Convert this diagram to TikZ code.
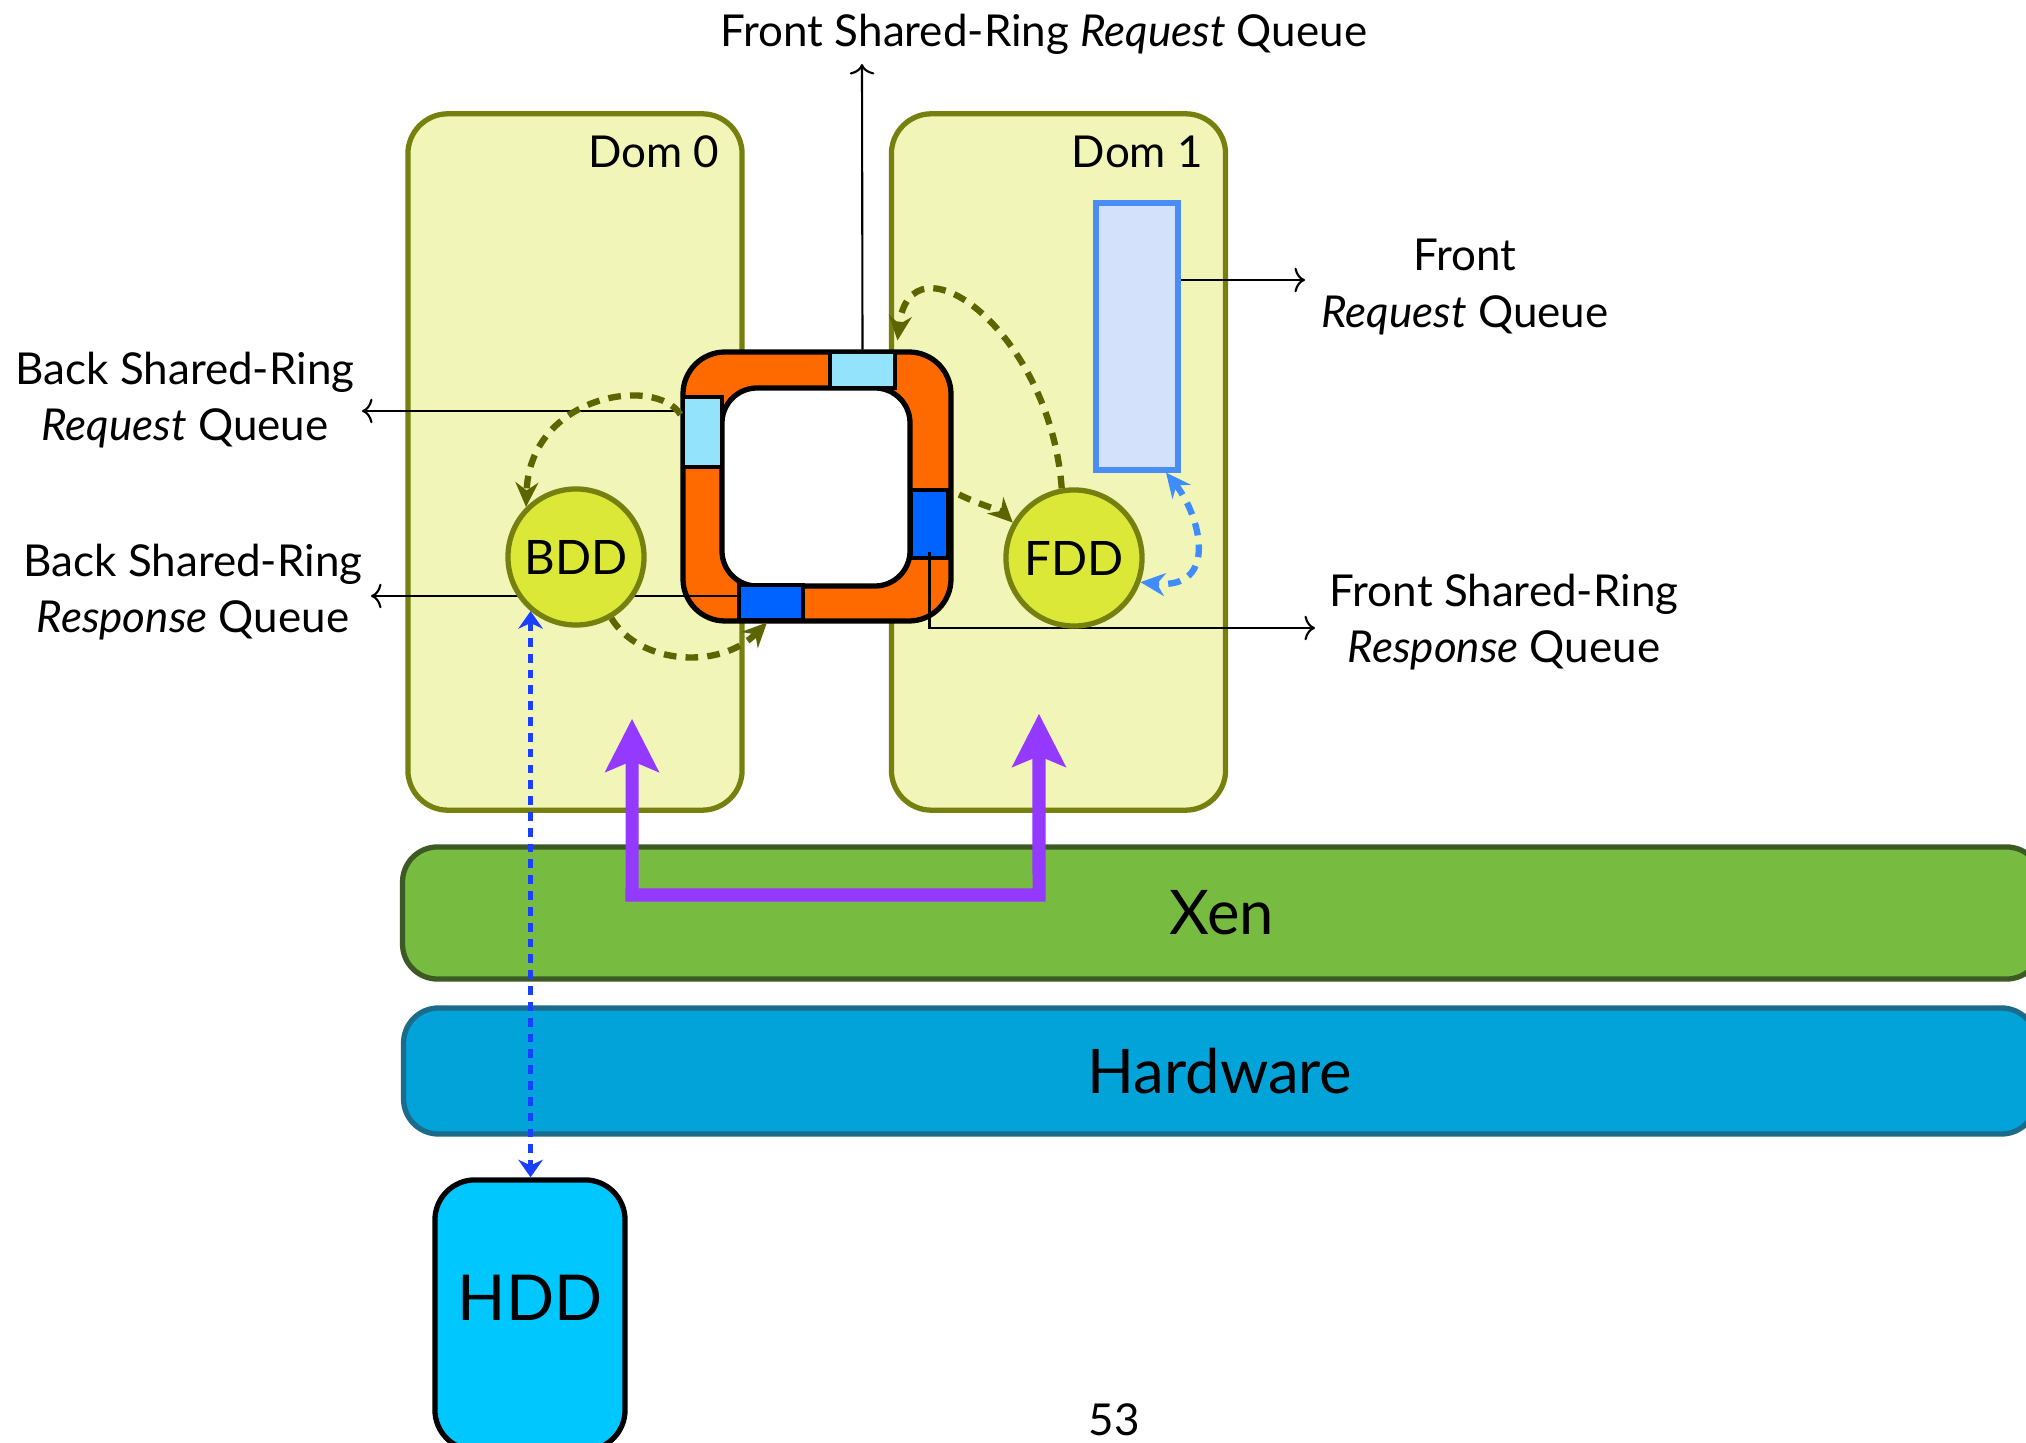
\documentclass[tikz,border=0pt]{standalone}
\usepackage{fontspec}
\setmainfont{Lato}
\usetikzlibrary{arrows.meta,positioning}
\definecolor{DomFill}{HTML}{F1F6B8}
\definecolor{DomEdge}{HTML}{76800F}
\definecolor{XenFill}{HTML}{77BC40}
\definecolor{XenEdge}{HTML}{3D5A24}
\definecolor{HwFill}{HTML}{02A3D8}
\definecolor{HwEdge}{HTML}{1D6B8A}
\definecolor{DiskFill}{HTML}{00C8FF}
\definecolor{RingOrange}{HTML}{FF6A00}
\definecolor{SlotLight}{HTML}{93E3FC}
\definecolor{SlotDark}{HTML}{0062FF}
\definecolor{DrvFill}{HTML}{DCE838}
\definecolor{QueueFill}{HTML}{D4E1FA}
\definecolor{QueueEdge}{HTML}{4A8EF5}
\definecolor{Olive}{HTML}{5C6500}
\definecolor{SoftBlue}{HTML}{3F8CFF}
\definecolor{DeepBlue}{HTML}{1A40FF}
\definecolor{Hyper}{HTML}{9439FF}
\begin{document}
\begin{tikzpicture}[x=0.01cm,y=-0.01cm,
  every node/.style={text=black},
  labeltext/.style={font=\fontsize{12.5}{16}\selectfont,align=center},
  dombox/.style={draw=DomEdge,fill=DomFill,line width=1.5pt,rounded corners=0.4cm,minimum width=3.34cm,minimum height=6.96cm},
  layer/.style={line width=1.5pt,rounded corners=0.35cm,font=\fontsize{17.5}{20}\selectfont},
  driver/.style={circle,draw=DomEdge,fill=DrvFill,line width=1.5pt,minimum size=1.36cm,inner sep=0pt,font=\fontsize{13.5}{16}\selectfont},
  slot/.style={draw,line width=1.4pt,inner sep=0pt},
  pointer/.style={line width=0.6pt,-{To[length=3pt,width=7pt]}},
  flow/.style={Olive,line width=1.8pt,dash pattern=on 3.6pt off 2.6pt,-{Stealth[length=7pt,width=6.5pt]}},
  softflow/.style={SoftBlue,line width=1.8pt,dash pattern=on 3.6pt off 2.6pt,{Stealth[length=7pt,width=6.5pt]}-{Stealth[length=7pt,width=6.5pt]}},
  diskio/.style={DeepBlue,line width=1.4pt,dash pattern=on 2.5pt off 2pt,{Stealth[length=5pt,width=7pt]}-{Stealth[length=5pt,width=7pt]}},
  hypercall/.style={Hyper,line width=3.7pt,line join=miter,{Stealth[length=15pt,width=15pt,inset=3pt]}-{Stealth[length=15pt,width=15pt,inset=3pt]}}]
\useasboundingbox (0,0) rectangle (2026,1443);
\clip (0,0) rectangle (2026,1443);
\node[dombox] (dom0) at (575,462) {};
\node[dombox] (dom1) at (1058.5,462) {};
\node[labeltext,anchor=north east] (dom0lbl) at ([shift={(-0.13cm,-0.12cm)}]dom0.north east) {Dom 0};
\node[labeltext,anchor=north east] (dom1lbl) at ([shift={(-0.13cm,-0.12cm)}]dom1.north east) {Dom 1};
\node[layer,draw=XenEdge,fill=XenFill,minimum width=16.38cm,minimum height=1.32cm] (xen) at (1222,913) {Xen};
\node[layer,draw=HwEdge,fill=HwFill,minimum width=16.32cm,minimum height=1.26cm] (hw) at (1220,1071) {Hardware};
\node[draw,line width=1.5pt,fill=DiskFill,rounded corners=0.4cm,minimum width=1.9cm,minimum height=2.7cm,
  label={[font=\fontsize{18}{20}\selectfont,yshift=0.17cm]center:HDD}] (hdd) at (530,1315) {};
\node[labeltext] (pagenum) at (1114,1420) {53};
\filldraw[fill=RingOrange,line width=1.5pt,rounded corners=0.42cm] (683,352) rectangle (951,621);
\filldraw[fill=white,line width=1.5pt,rounded corners=0.35cm] (722,388) rectangle (910,586);
\node[slot,fill=SlotLight,minimum width=0.65cm,minimum height=0.36cm] (fsreq) at (862.5,370) {};
\node[slot,fill=SlotLight,minimum width=0.39cm,minimum height=0.70cm] (bsreq) at (702.5,432) {};
\node[slot,fill=SlotDark,minimum width=0.38cm,minimum height=0.68cm] (fsrsp) at (929.5,524) {};
\node[slot,fill=SlotDark,minimum width=0.64cm,minimum height=0.35cm] (bsrsp) at (771,602.5) {};
\node[draw=QueueEdge,fill=QueueFill,line width=1.7pt,minimum width=0.82cm,minimum height=2.66cm,inner sep=0pt] (fq) at (1137,336.5) {};
\node[labeltext] (fsreqlbl) at (1044,34) {Front Shared-Ring \textit{Request} Queue};
\node[labeltext] (fqlbl) at (1465,287) {Front\\\textit{Request} Queue};
\node[labeltext] (bsreqlbl) at (185,400) {Back Shared-Ring\\\textit{Request} Queue};
\node[labeltext] (bsrsplbl) at (193,592) {Back Shared-Ring\\\textit{Response} Queue};
\node[labeltext] (fsrsplbl) at (1504,622) {Front Shared-Ring\\\textit{Response} Queue};
\coordinate (fsreqend) at (862,64);
\coordinate (fqend) at (1305,280);
\coordinate (bsreqend) at (362,411);
\coordinate (bsrspend) at (371,596);
\coordinate (fsrspend) at (1315,628);
\draw[pointer] (fsreq.north) -- (fsreqend);
\draw[pointer] (bsreq.west |- bsreqend) -- (bsreqend);
\draw[pointer] (bsrsp.west |- bsrspend) -- (bsrspend);
\draw[pointer] (fq.east |- fqend) -- (fqend);
\draw[pointer] ([yshift=-0.28cm]fsrsp.center) |- (fsrspend);
\node[driver] (bdd) at (576,557) {BDD};
\node[driver] (fdd) at (1074,558) {FDD};
\draw[flow] ([yshift=-0.2cm]bsreq.north west) .. controls (655,375) and (530,395) .. (bdd.135);
\draw[flow] (bdd.-60) .. controls (640,665) and (720,670) .. ([xshift=-0.04cm]bsrsp.south);
\draw[flow] ([xshift=0.08cm,yshift=-0.07cm]fsrsp.north east) .. controls (980,505) and (1000,510) .. (fdd.150);
\draw[flow] (fdd.100) .. controls (1050,330) and (910,230) .. ([yshift=0.09cm]fsreq.north east);
\draw[softflow] ([xshift=-0.15cm]fq.south east) .. controls (1200,515) and (1220,590) .. (fdd.-20);
\draw[diskio] (bdd.-130) -- (bdd.-130 |- hdd.north);
\coordinate (hcleft) at (632,895);
\coordinate (hcright) at (1039,895);
\draw[hypercall] ([xshift=0.57cm,yshift=0.94cm]dom0.south) -- (hcleft) -- (hcright) -- ([xshift=-0.195cm,yshift=0.99cm]dom1.south);
\end{tikzpicture}
\end{document}
